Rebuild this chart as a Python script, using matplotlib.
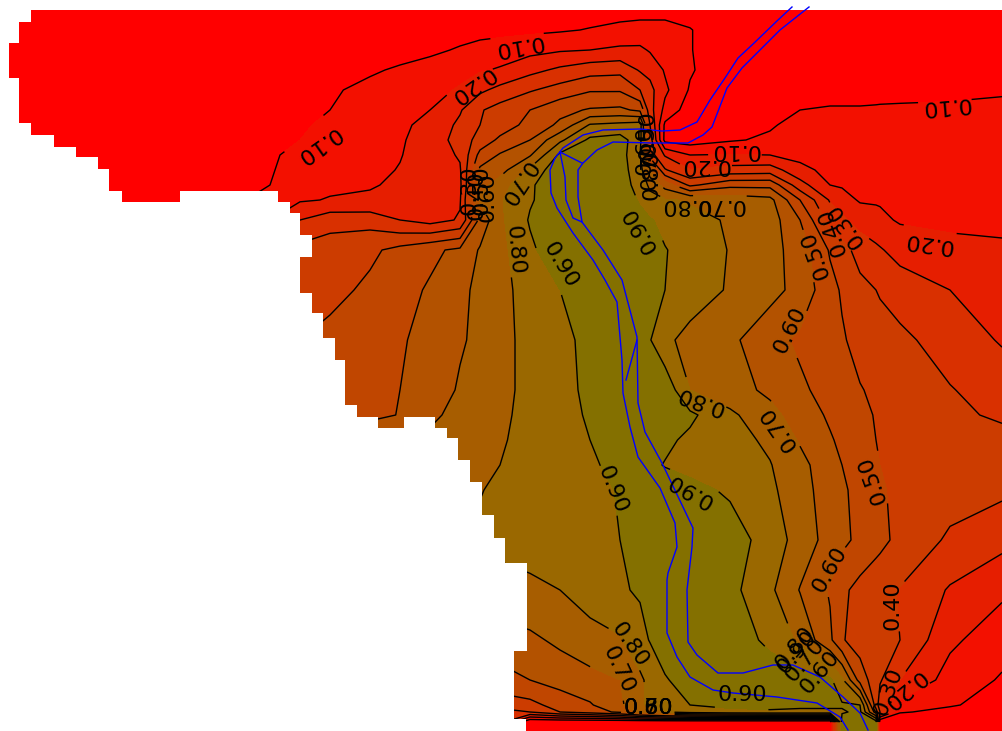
import numpy as np
import matplotlib
matplotlib.use('Agg')
import matplotlib.pyplot as plt
from matplotlib.colors import ListedColormap, BoundaryNorm

# grid nodes of the field
grid_x = [0, 150, 270, 300, 330, 370, 400, 430, 460, 480, 500, 530, 560, 590, 620, 640, 650, 665, 690, 730, 770, 800, 830, 842, 860, 876, 880, 900, 950, 1002]
grid_y = [10, 30, 50, 70, 90, 110, 125, 140, 155, 170, 185, 200, 220, 250, 290, 340, 390, 415, 440, 465, 490, 540, 590, 640, 680, 705, 712, 722, 731]

field = [
    [.01, .01, .01, .01, .01, .01, .02, .02, .03, .03, .03, .04, .05, .06, .07, .07, .07, .07, .06, .03, .02, .02, .02, .02, .02, .02, .02, .02, .02, .02],
    [.01, .01, .01, .02, .02, .03, .04, .05, .06, .07, .07, .08, .09, .105, .12, .13, .13, .13, .105, .03, .02, .02, .02, .02, .02, .02, .02, .02, .02, .02],
    [.01, .01, .02, .03, .04, .06, .07, .08, .11, .13, .15, .17, .19, .20, .22, .22, .19, .16, .105, .03, .02, .02, .03, .03, .03, .03, .03, .03, .03, .04],
    [.01, .02, .03, .04, .06, .09, .11, .14, .17, .19, .21, .27, .32, .36, .37, .29, .27, .19, .11, .03, .03, .04, .05, .05, .05, .05, .05, .05, .05, .06],
    [.01, .02, .05, .07, .09, .12, .14, .17, .21, .28, .33, .39, .44, .49, .49, .40, .33, .22, .09, .03, .05, .07, .08, .08, .08, .08, .08, .08, .08, .09],
    [.01, .02, .06, .08, .10, .14, .17, .20, .29, .39, .44, .50, .57, .61, .62, .58, .34, .17, .05, .03, .07, .10, .105, .105, .105, .107, .108, .11, .115, .12],
    [.01, .03, .07, .09, .115, .15, .18, .23, .32, .40, .45, .53, .62, .81, .83, .85, .40, .08, .06, .08, .09, .13, .13, .13, .13, .132, .133, .135, .14, .14],
    [.02, .03, .08, .10, .13, .16, .19, .24, .34, .44, .52, .60, .78, .92, .94, .84, .45, .07, .05, .09, .115, .14, .15, .15, .15, .152, .153, .155, .155, .155],
    [.02, .04, .09, .12, .14, .17, .195, .25, .31, .53, .61, .69, .92, .96, .95, .80, .45, .29, .20, .205, .20, .17, .16, .16, .16, .162, .163, .165, .165, .165],
    [.02, .05, .095, .125, .145, .175, .205, .25, .29, .62, .66, .82, .98, .98, .95, .83, .70, .41, .305, .34, .35, .23, .17, .17, .17, .172, .173, .175, .17, .17],
    [.02, .05, .10, .13, .185, .195, .21, .25, .28, .66, .75, .89, .95, .98, .95, .86, .78, .66, .48, .57, .57, .34, .20, .19, .18, .18, .18, .18, .175, .175],
    [.03, .06, .11, .19, .205, .21, .23, .26, .29, .72, .79, .89, .96, .98, .96, .89, .83, .81, .79, .76, .73, .50, .29, .24, .19, .19, .19, .19, .18, .18],
    [.03, .08, .20, .30, .36, .36, .30, .26, .31, .63, .78, .91, .97, .98, .97, .93, .91, .87, .83, .79, .75, .60, .36, .32, .26, .23, .22, .19, .185, .185],
    [.05, .10, .30, .43, .45, .48, .53, .58, .62, .71, .77, .88, .97, .98, .97, .95, .93, .905, .86, .795, .74, .65, .49, .44, .36, .32, .31, .26, .22, .21],
    [.10, .20, .38, .43, .47, .52, .57, .61, .68, .72, .77, .84, .90, .96, .97, .95, .93, .90, .85, .79, .73, .67, .53, .49, .43, .40, .39, .36, .30, .26],
    [.20, .30, .45, .50, .53, .56, .59, .63, .69, .72, .77, .83, .88, .92, .95, .92, .905, .82, .77, .72, .64, .58, .53, .51, .47, .45, .445, .42, .36, .29],
    [.30, .40, .50, .53, .55, .56, .60, .65, .71, .74, .77, .83, .87, .92, .95, .95, .95, .97, .80, .74, .68, .62, .56, .54, .505, .485, .48, .46, .405, .36],
    [.35, .45, .50, .52, .54, .57, .605, .68, .73, .76, .78, .83, .87, .91, .94, .96, .96, .96, .92, .82, .73, .655, .585, .56, .52, .495, .49, .47, .42, .385],
    [.40, .50, .60, .65, .68, .70, .71, .72, .74, .77, .79, .83, .87, .90, .93, .95, .94, .92, .88, .84, .78, .69, .61, .58, .54, .50, .495, .48, .45, .43],
    [.45, .55, .66, .69, .70, .72, .74, .75, .76, .78, .80, .83, .86, .89, .92, .93, .92, .895, .87, .84, .805, .73, .64, .60, .555, .51, .50, .48, .445, .425],
    [.50, .60, .68, .70, .72, .74, .76, .77, .78, .795, .82, .84, .86, .88, .905, .93, .94, .95, .93, .885, .82, .74, .65, .615, .57, .52, .51, .48, .44, .42],
    [.50, .60, .70, .72, .74, .76, .78, .80, .81, .82, .83, .84, .86, .88, .90, .92, .93, .95, .96, .95, .855, .76, .66, .625, .575, .54, .53, .47, .385, .33],
    [.40, .50, .60, .62, .64, .66, .68, .70, .72, .74, .76, .78, .80, .85, .89, .91, .93, .95, .96, .93, .82, .695, .59, .52, .47, .43, .42, .395, .29, .22],
    [.30, .40, .50, .52, .54, .56, .58, .60, .62, .64, .66, .68, .72, .76, .79, .87, .905, .96, .97, .95, .88, .78, .62, .51, .45, .42, .415, .40, .22, .14],
    [.20, .30, .40, .42, .44, .46, .48, .50, .52, .54, .56, .60, .64, .67, .70, .78, .83, .89, .95, .96, .95, .94, .92, .82, .56, .44, .41, .30, .16, .09],
    [.10, .20, .30, .32, .34, .36, .38, .40, .42, .44, .45, .47, .54, .59, .68, .78, .82, .87, .90, .92, .92, .91, .91, .91, .90, .45, .35, .17, .11, .06],
    [.10, .20, .30, .30, .30, .30, .30, .30, .30, .30, .35, .40, .50, .55, .62, .72, .75, .80, .85, .88, .89, .89, .89, .89, .92, .55, .40, .11, .07, .04],
    [.10, .20, .30, .30, .30, .30, .30, .30, .30, .30, .35, 0, 0, 0, 0, 0, 0, 0, 0, 0, 0, 0, 0, .95, .95, .95, 0, 0, 0, 0],
    [.10, .20, .30, .30, .30, .30, .30, .30, .30, .30, .35, 0, 0, 0, 0, 0, 0, 0, 0, 0, 0, 0, 0, .95, .95, .95, 0, 0, 0, 0],
]

levels = [0, .1, .2, .3, .4, .5, .6, .7, .8, .9, 1.0]
band_colors = ['#ff0000', '#f31000', '#e61e00', '#d93000', '#cc3c00', '#c04600', '#b35200',
               '#a75d00', '#9a6800', '#847000']

# left edge of the covered area, staircase
edge_y = [0, 10, 22, 43, 78, 123, 135, 147, 157, 169, 191, 202, 213, 235, 257, 293, 313, 338, 360, 405, 417, 428, 438, 460, 482, 515, 538, 563, 651, 719, 731]
edge_x = [1002, 31, 19, 9, 19, 31, 54, 76, 98, 109, 122, 290, 300, 312, 300, 312, 323, 335, 345, 357, 378, 447, 458, 470, 482, 494, 505, 527, 514, 526, 526]
# white pockets cut into the area: y from, y to, x from, x to
pocket_y0 = [191, 417]
pocket_y1 = [202, 428]
pocket_x0 = [180, 404]
pocket_x1 = [278, 435]

# rivers
river_a_x = [792, 778, 752, 738, 725, 710, 697, 680, 662, 640, 603, 583, 563, 555, 550, 551, 557, 573, 593, 605, 617, 622, 623, 630, 638, 660, 675, 677, 668, 667, 667, 677, 690, 713, 733, 777, 817, 840, 848]
river_a_y = [7, 20, 45, 58, 78, 100, 122, 130, 131, 129, 130, 135, 148, 158, 170, 193, 208, 233, 260, 280, 302, 360, 393, 427, 457, 488, 523, 547, 573, 580, 633, 657, 677, 690, 693, 697, 703, 717, 730]
river_b_x = [809, 780, 742, 727, 712, 703, 688, 653, 613, 597, 583, 578, 578, 582, 603, 622, 637, 638, 645, 662, 693, 692, 687, 688, 697, 718, 743, 773, 793, 820, 843, 860, 868]
river_b_y = [7, 30, 68, 88, 127, 135, 143, 143, 142, 150, 163, 170, 197, 222, 250, 280, 337, 403, 432, 463, 528, 547, 590, 642, 655, 673, 673, 665, 665, 677, 697, 713, 730]
branch_c_x = [560, 565, 566, 573, 582]
branch_c_y = [152, 177, 200, 218, 222]
branch_d_x = [560, 582]
branch_d_y = [152, 163]
branch_e_x = [637, 626]
branch_e_y = [340, 380]

# contour labels: level, x, y, angle
label_level = [.1, .1, .1, .1, .2, .2, .2, .7, .8, .9, .9, .9, .9, .6, .6, .7, .8, .5, .4, .3, .5,
               .8, .7, .9, .8, .7, .6, .4, .3, .2, .8, .7, .6, .9, .3, .4, .5, .6, .5, .6, .7, .8, .8, .7]
label_x = [518, 318, 945, 735, 472, 928, 705, 517, 515, 560, 640, 612, 690, 790, 830, 778, 700, 872, 832, 845, 815,
           630, 618, 797, 795, 805, 820, 893, 888, 903, 648, 648, 648, 742, 470, 477, 482, 488, 648, 645, 650, 652, 685, 720]
label_y = [45, 145, 105, 150, 85, 242, 165, 183, 250, 265, 230, 490, 490, 330, 570, 428, 400, 480, 232, 225, 255,
           645, 670, 652, 648, 660, 672, 605, 692, 690, 708, 708, 708, 695, 190, 195, 190, 197, 135, 150, 165, 175, 205, 205]
label_rot = [190, 215, 185, 180, 215, 172, 180, 237, 275, 301, 120, 292, 150, 64, 60, 125, 160, 110, 110, 125, 110,
             305, 295, 50, 50, 50, 50, 90, 70, 220, 0, 0, 0, 0, 90, 90, 90, 90, 90, 90, 90, 90, 180, 180]

X = np.array(grid_x)
Y = np.array(grid_y)
Z = np.array(field)

fig = plt.figure(figsize=(10.02, 7.31), dpi=100)
ax = fig.add_axes([0, 0, 1, 1])
ax.set_xlim(0, 1002)
ax.set_ylim(731, 0)

cmap = ListedColormap(band_colors)
norm = BoundaryNorm(levels, cmap.N)
ax.contourf(X, Y, Z, levels=levels, cmap=cmap, norm=norm, zorder=1)
# no lines below the bottom edge of the wall
cs = ax.contour(X, Y[:-1], Z[:-1], levels=levels[1:-1], colors='black', linewidths=1.0, zorder=2)

for i in range(len(label_level)):
    cs.clabel(manual=[(label_x[i], label_y[i])], fmt='%.2f', fontsize=16, inline=True, inline_spacing=2, colors='black')
    t = ax.texts[-1]
    t.set_text('%.2f' % label_level[i])
    t.set_transform_rotates_text(False)
    t.set_rotation(label_rot[i])
    t.set_position((label_x[i], label_y[i]))
    t.set_zorder(5)

# mask everything outside the area
ax.fill_betweenx(edge_y, 0, edge_x, step='post', color='white', lw=0, zorder=3)
for i in range(len(pocket_y0)):
    ax.fill_between([pocket_x0[i], pocket_x1[i]], pocket_y0[i], pocket_y1[i], color='white', lw=0, zorder=3)

ax.plot(river_a_x, river_a_y, color='#0000ff', lw=1, zorder=4)
ax.plot(river_b_x, river_b_y, color='#0000ff', lw=1, zorder=4)
ax.plot(branch_c_x, branch_c_y, color='#0000ff', lw=1, zorder=4)
ax.plot(branch_d_x, branch_d_y, color='#0000ff', lw=1, zorder=4)
ax.plot(branch_e_x, branch_e_y, color='#0000ff', lw=1, zorder=4)

ax.axis('off')
fig.savefig('out.png', dpi=100, facecolor='white')
